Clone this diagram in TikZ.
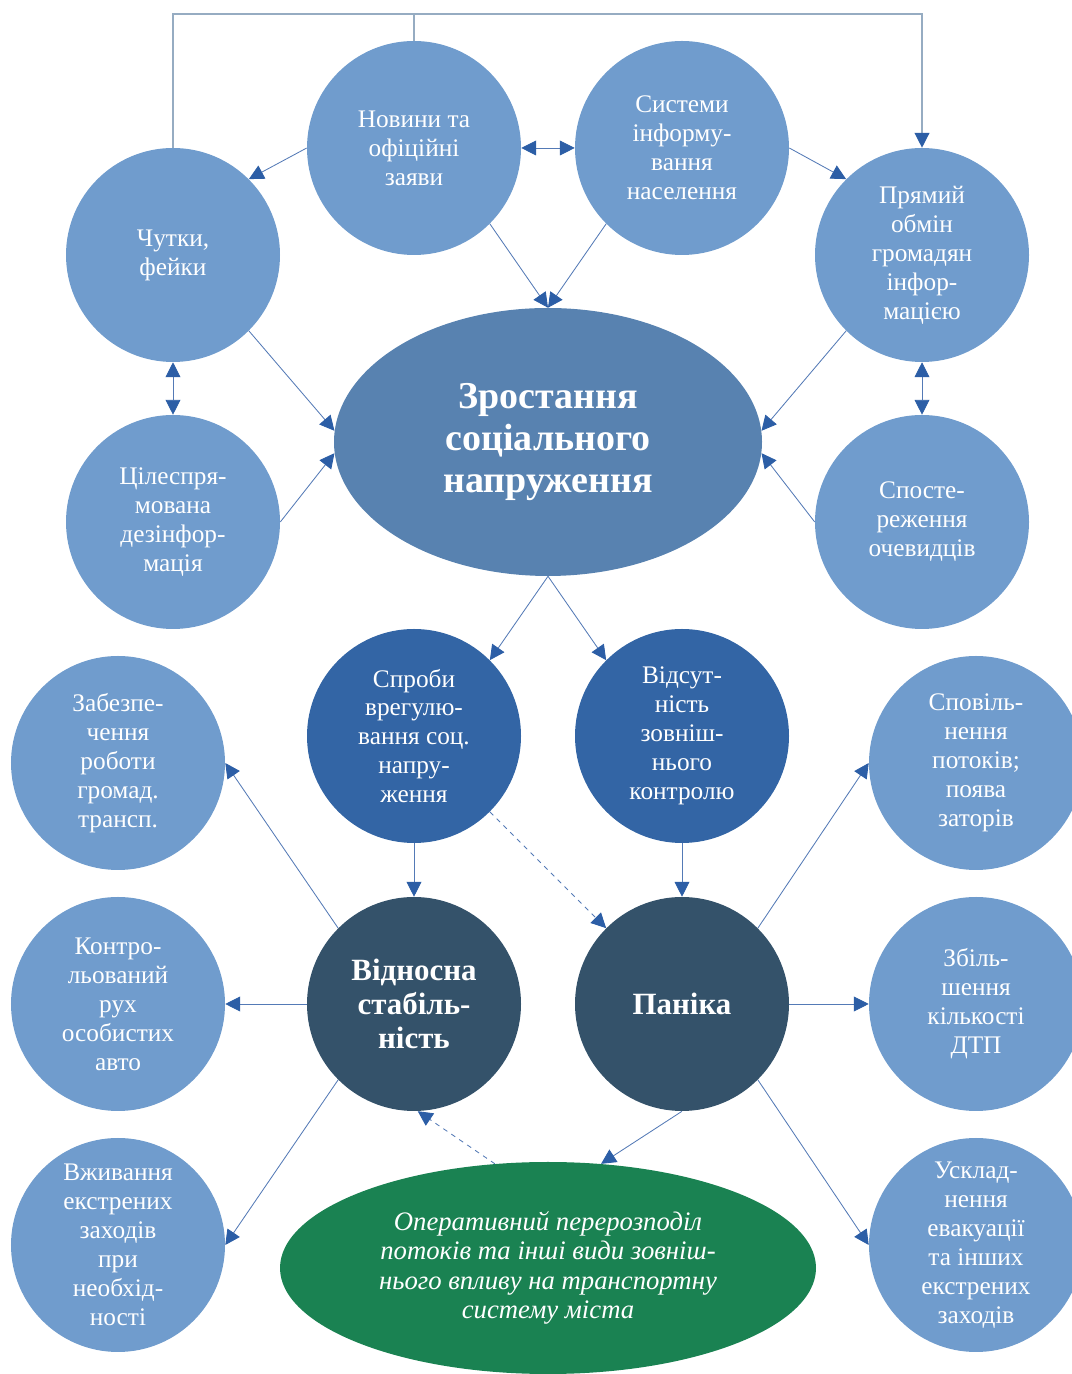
\documentclass[tikz,border=0pt]{standalone}
\usepackage{fontspec}
\setmainfont{Liberation Serif}
\usetikzlibrary{arrows.meta}
\usetikzlibrary{shapes.geometric}

\definecolor{softblue}{RGB}{112,156,205}
\definecolor{midblue}{RGB}{51,101,165}
\definecolor{coreblue}{RGB}{88,130,176}
\definecolor{slateblue}{RGB}{52,82,106}
\definecolor{fieldgreen}{RGB}{26,130,82}
\definecolor{wireblue}{RGB}{84,122,182}
\definecolor{tipblue}{RGB}{44,94,166}
\definecolor{topgray}{RGB}{150,172,194}

\tikzset{
  >={Triangle[length=0.37cm,width=0.37cm,color=tipblue]},
  bubble/.style={circle,draw=none,fill=softblue,minimum size=5.35cm,inner sep=0pt,
    text=white,align=center,font=\fontsize{18}{20.6}\selectfont},
  midbubble/.style={bubble,fill=midblue},
  darkbubble/.style={bubble,fill=slateblue,font=\bfseries\fontsize{22}{24.2}\selectfont},
  link/.style={draw=wireblue,line width=0.6pt,->},
  twoway/.style={link,<->},
  hint/.style={link,dash pattern=on 0.12cm off 0.12cm},
  topwire/.style={draw=topgray,line width=0.9pt,->}
}

\begin{document}
\begin{tikzpicture}
\useasboundingbox (0,0) rectangle (26.8,34.35);

\node[bubble] (news) at (10.35,30.65) {Новини та\\офіційні\\заяви};
\node[bubble] (sys) at (17.05,30.65) {Системи\\інформу-\\вання\\населення};
\node[bubble] (rumors) at (4.325,27.975) {Чутки,\\фейки};
\node[bubble] (direct) at (23.05,27.975) {Прямий\\обмін\\громадян\\інфор-\\мацією};
\node[bubble] (disinfo) at (4.325,21.3) {Цілеспря-\\мована\\дезінфор-\\мація};
\node[bubble] (witness) at (23.05,21.3) {Спосте-\\реження\\очевидців};

\node[ellipse,fill=coreblue,minimum width=10.7cm,minimum height=6.7cm,inner sep=0pt,
  text=white,align=center,font=\bfseries\fontsize{27}{29.9}\selectfont]
  (tension) at (13.7,23.3) {Зростання\\соціального\\напруження};

\node[midbubble] (settle) at (10.35,15.95) {Спроби\\врегулю-\\вання соц.\\напру-\\ження};
\node[midbubble] (nocontrol) at (17.05,15.95) {Відсут-\\ність\\зовніш-\\нього\\контролю};
\node[bubble] (transit) at (2.95,15.275) {Забезпе-\\чення\\роботи\\громад.\\трансп.};
\node[bubble] (slowdown) at (24.4,15.275) {Сповіль-\\нення\\потоків;\\поява\\заторів};

\node[darkbubble] (stable) at (10.35,9.25) {Відносна\\стабіль-\\ність};
\node[darkbubble] (panic) at (17.05,9.25) {Паніка};
\node[bubble] (cars) at (2.95,9.25) {Контро-\\льований\\рух\\особистих\\авто};
\node[bubble] (accidents) at (24.4,9.25) {Збіль-\\шення\\кількості\\ДТП};
\node[bubble] (emergency) at (2.95,3.225) {Вживання\\екстрених\\заходів\\при\\необхід-\\ності};
\node[bubble] (evac) at (24.4,3.225) {Усклад-\\нення\\евакуації\\та інших\\екстрених\\заходів};

\node[ellipse,fill=fieldgreen,minimum width=13.4cm,minimum height=5.3cm,inner sep=0pt,
  text=white,align=center,font=\itshape\fontsize{19}{20.8}\selectfont]
  (response) at (13.7,2.65) {Оперативний перерозподіл\\потоків та інші види зовніш-\\нього впливу на транспортну\\систему міста};

\coordinate (topline) at (13.7,34.0);
\draw[topwire] (rumors.north) |- (topline) -| (direct.north);
\draw[topwire,-] (news.north) -- (news.north |- topline);

\draw[link] (news.180) -- (rumors.45);
\draw[twoway] (news.east) -- (sys.west);
\draw[link] (sys.east) -- (direct.135);
\draw[link] (news.-45) -- (tension.north);
\draw[link] (sys.-135) -- (tension.north);
\draw[twoway] (rumors.south) -- (disinfo.north);
\draw[twoway] (direct.south) -- (witness.north);
\draw[link] (rumors.-45) -- (tension.177);
\draw[link] (disinfo.east) -- (tension.183);
\draw[link] (direct.-135) -- (tension.3);
\draw[link] (witness.west) -- (tension.-3);

\draw[link] (tension.south) -- (settle.45);
\draw[link] (tension.south) -- (nocontrol.135);
\draw[link] (settle.south) -- (stable.north);
\draw[link] (nocontrol.south) -- (panic.north);
\draw[hint] (settle.-45) -- (panic.135);

\draw[link] (stable.135) -- (transit.east);
\draw[link] (stable.west) -- (cars.east);
\draw[link] (stable.-135) -- (emergency.east);
\draw[link] (panic.45) -- (slowdown.west);
\draw[link] (panic.east) -- (accidents.west);
\draw[link] (panic.-45) -- (evac.west);
\draw[link] (panic.south) -- (response.63);
\draw[hint] (response.117) -- (stable.-88);

\end{tikzpicture}
\end{document}
